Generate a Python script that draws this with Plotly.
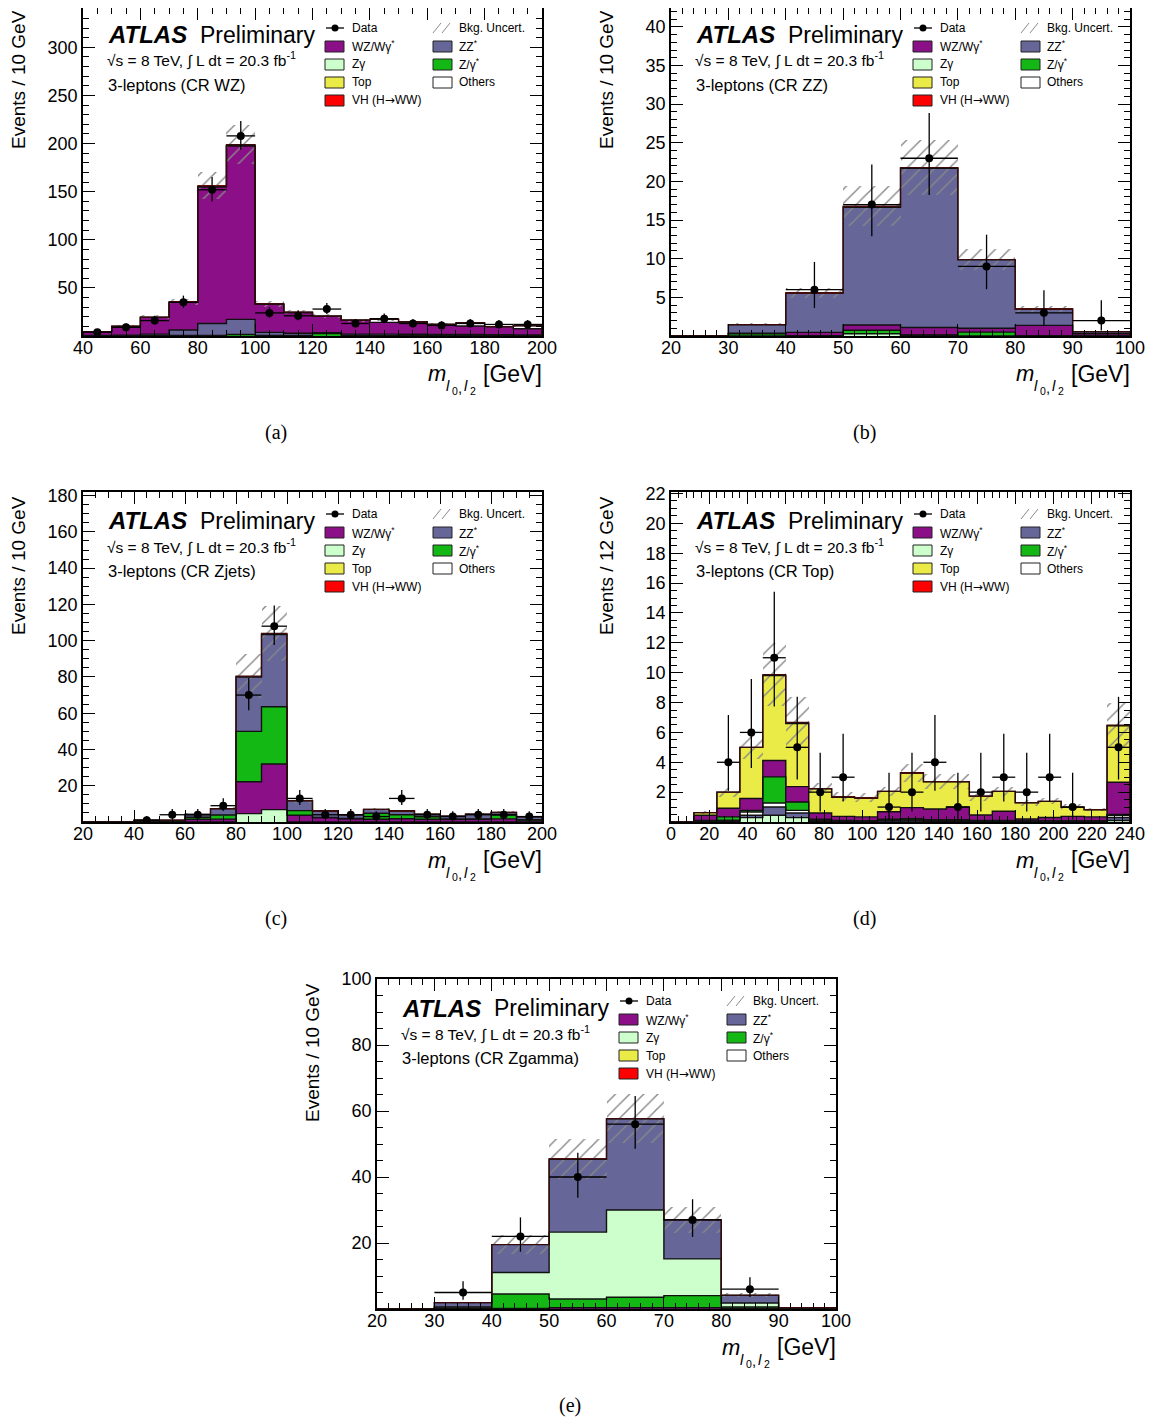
import math
import plotly.graph_objects as go

OFF = 8  # page body margin of the browser
W, H = 1157 - OFF, 1421 - OFF
FONT = "Liberation Sans"

# ---------------- colours ----------------
C_WZ = "#8b1087"
C_ZZ = "#666699"
C_ZG = "#ccffcc"
C_TOP = "#ebeb48"
C_ZGS = "#14b814"
C_OTH = "#ffffff"
C_VH = "#ff0000"

# ---------------- panel (a): CR WZ ----------------
a_edges = [40, 50, 60, 70, 80, 90, 100, 110, 120, 130, 140, 150, 160, 170, 180, 190, 200]
a_zgs = [0.1, 0.2, 0.3, 0.5, 0.7, 1.5, 0.5, 0.5, 2.5, 0.5, 0.4, 0.3, 0.3, 0.3, 0.3, 0.2]
a_zz = [0.4, 0.6, 1.7, 5.7, 12.3, 15.8, 3.3, 2.3, 1.0, 1.5, 1.6, 1.5, 1.2, 1.2, 1.0, 1.0]
a_wz = [4.0, 9.2, 17.4, 28.8, 142.0, 180.5, 29.2, 21.7, 17.0, 14.3, 12.2, 12.7, 10.6, 8.9, 8.4, 6.4]
a_oth = [0, 0, 0, 0, 0, 0, 0, 0, 0, 0, 3.1, 0, 0, 3.1, 0, 3.0]
a_vh = [0.1, 0.2, 0.3, 0.5, 1.0, 1.2, 0.4, 0.3, 0.2, 0.2, 0.2, 0.2, 0.1, 0.1, 0.1, 0.1]
a_data = [4, 9, 16, 35, 152, 208, 24, 21, 28, 13, 18, 13, 11, 13, 12, 12]
a_unc = [0.5, 1.0, 1.8, 3.0, 14, 20, 3.0, 2.2, 2.0, 1.6, 1.5, 1.4, 1.2, 1.1, 1.0, 0.9]

# ---------------- panel (b): CR ZZ ----------------
b_edges = [20, 30, 40, 50, 60, 70, 80, 90, 100]
b_zg = [0, 0, 0, 0.3, 0.1, 0, 0, 0]
b_zgs = [0, 0.3, 0.05, 0.45, 0.05, 0.5, 0.05, 0]
b_wz = [0, 0.05, 0.42, 0.67, 0.95, 0.5, 1.32, 0.3]
b_zz = [0, 1.11, 5.08, 15.23, 20.6, 8.85, 2.11, 0.25]
b_vh = [0, 0, 0.02, 0.15, 0.1, 0.05, 0.02, 0]
b_data = [0, 0, 6, 17, 23, 9, 3, 2]
b_unc = [0, 0.2, 0.6, 2.6, 3.5, 1.3, 0.4, 0.1]

# ---------------- panel (c): CR Zjets ----------------
c_edges = [20, 30, 40, 50, 60, 70, 80, 90, 100, 110, 120, 130, 140, 150, 160, 170, 180, 190, 200]
c_zg = [0, 0, 0, 0, 0, 0, 4.6, 6.8, 0, 0, 0, 0, 0, 0, 0, 0, 0, 0]
c_wz = [0, 0, 0.5, 0.5, 1.5, 1.6, 17.6, 25.2, 3.7, 2.4, 1.8, 1.5, 1.8, 1.5, 1.5, 1.5, 1.7, 1.1]
c_zgs = [0, 0, 0.1, 0.1, 1.1, 2.3, 27.8, 31.6, 2.6, 0.1, 0.1, 3.3, 2.2, 1.4, 0.1, 0.1, 2.2, 0.1]
c_zz = [0, 0, 0.4, 0.4, 1.55, 3.4, 30.0, 39.8, 5.4, 3.55, 2.05, 2.15, 2.05, 1.45, 1.65, 2.75, 1.35, 1.65]
c_vh = [0, 0, 0, 0, 0.05, 0.1, 0.5, 0.6, 0.1, 0.05, 0.05, 0.05, 0.05, 0.05, 0.05, 0.05, 0.05, 0.05]
c_data = [0, 0, 1, 4, 4, 9, 70, 108, 13, 4, 4, 3, 13, 4, 3, 4, 4, 3]
c_unc = [0, 0, 0.2, 0.2, 0.5, 1.0, 12, 15, 1.5, 0.7, 0.5, 0.8, 0.7, 0.5, 0.4, 0.5, 0.6, 0.4]

# ---------------- panel (d): CR Top ----------------
d_edges = [0, 12, 24, 36, 48, 60, 72, 84, 96, 108, 120, 132, 144, 156, 168, 180, 192, 204, 216, 228, 240]
d_zg = [0, 0, 0.05, 0.29, 0.45, 0.29, 0.02, 0, 0, 0, 0, 0, 0, 0, 0, 0, 0, 0, 0, 0.1]
d_zz = [0, 0, 0.05, 0.16, 0.55, 0.31, 0.08, 0.05, 0.05, 0.1, 0.1, 0.05, 0.05, 0.05, 0.05, 0.05, 0.05, 0.05, 0.05, 0.2]
d_oth = [0, 0, 0, 0.22, 0.27, 0.18, 0.02, 0, 0, 0.05, 0.1, 0.05, 0.05, 0, 0, 0, 0, 0, 0, 0.15]
d_zgs = [0, 0.1, 0.24, 0.11, 1.75, 0.56, 0.06, 0.05, 0.03, 0.03, 0.02, 0.05, 0.05, 0.05, 0.05, 0.02, 0.02, 0.02, 0.02, 0.05]
d_wz = [0, 0.35, 0.58, 0.79, 1.1, 1.03, 0.42, 0.28, 0.26, 0.51, 0.74, 0.72, 0.85, 0.37, 0.62, 0.13, 0.23, 0.31, 0.27, 2.16]
d_top = [0, 0.18, 1.08, 3.43, 5.68, 4.23, 1.62, 1.28, 1.26, 1.36, 2.32, 1.82, 1.7, 1.26, 1.33, 1.09, 1.08, 0.61, 0.48, 3.79]
d_vh = [0, 0, 0, 0, 0.07, 0.07, 0.02, 0.02, 0.01, 0.01, 0.03, 0.02, 0.01, 0.01, 0.01, 0.01, 0.01, 0.01, 0.01, 0.04]
d_data = [0, 0, 4, 6, 11, 5, 2, 3, 0, 1, 2, 4, 1, 2, 3, 2, 3, 1, 0, 5]
d_unc = [0, 0.1, 0.3, 0.8, 2.1, 1.7, 0.4, 0.3, 0.3, 0.3, 0.6, 0.5, 0.5, 0.3, 0.3, 0.2, 0.2, 0.2, 0.1, 1.5]

# ---------------- panel (e): CR Zgamma ----------------
e_edges = [20, 30, 40, 50, 60, 70, 80, 90, 100]
e_wz = [0, 0.1, 0.2, 0.4, 0.4, 0.4, 0.2, 0.1]
e_zgs = [0, 0.2, 4.36, 2.64, 3.15, 3.66, 0.4, 0.1]
e_zg = [0, 0.3, 6.49, 20.26, 26.45, 11.14, 1.2, 0.1]
e_zz = [0, 1.33, 8.45, 22.1, 27.6, 11.8, 2.36, 0.1]
e_vh = [0, 0, 0.05, 0.1, 0.1, 0.05, 0, 0]
e_data = [0, 5, 22, 40, 56, 27, 6, 0]
e_unc = [0, 0.3, 2.8, 6.0, 7.5, 4.0, 0.6, 0.1]


# ---------------- Poisson (Garwood) intervals for data ----------------
def pois_cdf(n, mu):
    if mu <= 0:
        return 1.0
    s = 0.0
    lm = math.log(mu)
    for k in range(n + 1):
        s += math.exp(-mu + k * lm - math.lgamma(k + 1))
    return s


def garwood(n):
    a = 0.5 * (1 - 0.682689)
    lo, hi = float(n), n + 20 + 10 * math.sqrt(n + 1)
    for _ in range(80):
        mid = 0.5 * (lo + hi)
        if pois_cdf(n, mid) > a:
            lo = mid
        else:
            hi = mid
    up = 0.5 * (lo + hi)
    if n == 0:
        dn = 0.0
    else:
        lo, hi = 0.0, float(n)
        for _ in range(80):
            mid = 0.5 * (lo + hi)
            if pois_cdf(n - 1, mid) > 1 - a:
                lo = mid
            else:
                hi = mid
        dn = 0.5 * (lo + hi)
    return n - dn, up - n


fig = go.Figure()
layout = dict(width=W, height=H, margin=dict(l=0, r=0, t=0, b=0, pad=0, autoexpand=False),
              paper_bgcolor="white", plot_bgcolor="white", showlegend=False,
              barmode="overlay", bargap=0, template="none")
annotations = []
shapes = []


def px(x):
    return (x - OFF) / W


def py(y):
    return 1 - (y - OFF) / H


def text(x, y, s, size, xanchor="left", yanchor="middle", family=FONT, angle=0):
    annotations.append(dict(x=px(x), y=min(1.0, py(y)), xref="paper", yref="paper", xanchor=xanchor,
                            yanchor=yanchor, showarrow=False, text=s, textangle=angle,
                            font=dict(family=family, size=size, color="black")))


def add_panel(k, edges, comps, data, unc, box, yr, xdt, xminor, ytv, yminor,
              ytitle, region, cap):
    L, T, R, B = box
    Tp = T
    if T < OFF:  # keep the same value-per-pixel scale when the frame top is clipped
        Tp = OFF
        yr = [yr[0], yr[0] + (yr[1] - yr[0]) * (B - OFF) / (B - T)]
    xa = "x" if k == 1 else "x%d" % k
    ya = "y" if k == 1 else "y%d" % k
    centers = [(edges[i] + edges[i + 1]) / 2 for i in range(len(edges) - 1)]
    widths = [edges[i + 1] - edges[i] for i in range(len(edges) - 1)]
    nb = len(centers)
    cum = [0.0] * nb
    levels = []
    for name, vals, col in comps:
        fig.add_trace(go.Bar(x=centers, y=vals, base=list(cum), width=widths,
                             marker=dict(color=col, line=dict(width=0)),
                             xaxis=xa, yaxis=ya, hoverinfo="skip"))
        cum = [cum[i] + vals[i] for i in range(nb)]
        levels.append((name, list(cum)))
    # outlines (ROOT style step histograms)
    for name, lev in levels:
        xs = [edges[0]] + list(edges) + [edges[-1]]
        ys = [0] + lev + [lev[-1], 0]
        if name == "VH":
            col, wid = "#3a0a0a", 1.2
        else:
            col, wid = "#111111", 1.4
        fig.add_trace(go.Scatter(x=xs, y=ys, mode="lines", line=dict(color=col, width=wid, shape="hv"),
                                 xaxis=xa, yaxis=ya, hoverinfo="skip"))
    total = cum
    # uncertainty hatch
    fig.add_trace(go.Bar(x=centers, y=[2 * u for u in unc], base=[total[i] - unc[i] for i in range(nb)],
                         width=widths,
                         marker=dict(color="rgba(0,0,0,0)", line=dict(width=0),
                                     pattern=dict(shape="/", fgcolor="#888888", bgcolor="rgba(0,0,0,0)",
                                                  size=10, solidity=0.14)),
                         xaxis=xa, yaxis=ya, hoverinfo="skip"))
    # data
    dx, dy, eu, ed, ex = [], [], [], [], []
    for i in range(nb):
        if data[i] > 0:
            lo, hi = garwood(data[i])
            dx.append(centers[i])
            dy.append(data[i])
            ed.append(lo)
            eu.append(hi)
            ex.append(widths[i] / 2)
    fig.add_trace(go.Scatter(x=dx, y=dy, mode="markers",
                             marker=dict(color="black", size=8),
                             error_y=dict(type="data", symmetric=False, array=eu, arrayminus=ed,
                                          color="black", thickness=1.3, width=0),
                             error_x=dict(type="data", array=ex, color="black", thickness=1.3, width=0),
                             xaxis=xa, yaxis=ya, hoverinfo="skip"))

    axkey = "xaxis" if k == 1 else "xaxis%d" % k
    aykey = "yaxis" if k == 1 else "yaxis%d" % k
    common = dict(showline=True, linecolor="black", linewidth=1.5, mirror="ticks",
                  ticks="inside", ticklen=12, tickwidth=1.2, tickcolor="black",
                  showgrid=False, zeroline=False, automargin=False,
                  tickfont=dict(family=FONT, size=18, color="black"))
    layout[axkey] = dict(common, domain=[px(L), px(R)], range=[edges[0], edges[-1]],
                         anchor=ya, tickmode="linear", tick0=edges[0], dtick=xdt,
                         ticklabelstandoff=-5,
                         minor=dict(ticks="inside", ticklen=6, tickwidth=1, tickcolor="black",
                                    dtick=xminor, tick0=edges[0], showgrid=False))
    layout[aykey] = dict(common, domain=[py(B), min(1.0, py(Tp))], range=yr, anchor=xa,
                         tickmode="array", tickvals=ytv,
                         minor=dict(ticks="inside", ticklen=6, tickwidth=1, tickcolor="black",
                                    tickmode="linear", dtick=yminor, tick0=0, showgrid=False))

    # texts: ATLAS label
    text(L + 23, T + 29, "<b><i>ATLAS</i></b>", 24)
    text(L + 115, T + 29, "Preliminary", 23)
    text(L + 22, T + 54, "√s = 8 TeV, ∫ L dt = 20.3 fb<sup>-1</sup>", 15.5)
    text(L + 23, T + 79, "3-leptons (" + region + ")", 16.5)
    # legend
    rows = [22, 40.5, 58.5, 76.5, 94.5]
    arrow = "<span style='font-family:DejaVu Sans'>→</span>"
    lcol = [("WZ/Wγ<sup>*</sup>", C_WZ), ("Zγ", C_ZG), ("Top", C_TOP), ("VH (H" + arrow + "WW)", C_VH)]
    rcol = [("ZZ<sup>*</sup>", C_ZZ), ("Z/γ<sup>*</sup>", C_ZGS), ("Others", C_OTH)]
    # data entry
    yr0 = T + rows[0]
    shapes.append(dict(type="line", xref="paper", yref="paper", x0=px(L + 243), x1=px(L + 261),
                       y0=py(yr0), y1=py(yr0), line=dict(color="black", width=1.3)))
    shapes.append(dict(type="circle", xref="paper", yref="paper", x0=px(L + 248.5), x1=px(L + 255.5),
                       y0=py(yr0 + 3.5), y1=py(yr0 - 3.5), fillcolor="black", line=dict(width=0)))
    text(L + 267, yr0, "Data", 12)
    for j, (txt, col) in enumerate(lcol):
        yy = T + rows[j + 1]
        shapes.append(dict(type="rect", xref="paper", yref="paper", x0=px(L + 242), x1=px(L + 261),
                           y0=py(yy + 5.5), y1=py(yy - 5.5), fillcolor=col,
                           line=dict(color="#222222", width=1)))
        text(L + 267, yy, txt, 12)
    # uncertainty entry
    for x0 in (350, 359):
        shapes.append(dict(type="line", xref="paper", yref="paper", x0=px(L + x0), x1=px(L + x0 + 8),
                           y0=py(yr0 + 5), y1=py(yr0 - 5), line=dict(color="#8a8a8a", width=1)))
    text(L + 374, yr0, "Bkg. Uncert.", 12)
    for j, (txt, col) in enumerate(rcol):
        yy = T + rows[j + 1]
        shapes.append(dict(type="rect", xref="paper", yref="paper", x0=px(L + 350), x1=px(L + 369),
                           y0=py(yy + 5.5), y1=py(yy - 5.5), fillcolor=col,
                           line=dict(color="#222222", width=1)))
        text(L + 374, yy, txt, 12)
    # y axis title
    text(L - 64.5, T + 2, ytitle, 19, xanchor="center", yanchor="top", angle=-90)
    # x axis title  m_{l0, l2} [GeV]
    text(R + 2, B + 38, "[GeV]", 23, xanchor="right")
    text(R - 94, B + 38, "<i>m</i>", 22, xanchor="right")
    text(R - 98, B + 50, "<i>l</i>", 15)
    text(R - 92.5, B + 55, "0", 10.5)
    text(R - 86.5, B + 51, ",", 15)
    text(R - 80, B + 50, "<i>l</i>", 15)
    text(R - 74.5, B + 55, "2", 10.5)
    # caption
    text(L + 193, T + 426, cap, 20, xanchor="center", family="Liberation Serif")


add_panel(1, a_edges,
          [("Zgs", a_zgs, C_ZGS), ("ZZ", a_zz, C_ZZ), ("WZ", a_wz, C_WZ), ("Others", a_oth, C_OTH),
           ("VH", a_vh, C_VH)],
          a_data, a_unc, (83, 6, 542, 336), [0, 343], 20, 5,
          [50, 100, 150, 200, 250, 300], 10, "Events / 10 GeV", "CR WZ", "(a)")
add_panel(2, b_edges,
          [("Zg", b_zg, C_ZG), ("Zgs", b_zgs, C_ZGS), ("WZ", b_wz, C_WZ), ("ZZ", b_zz, C_ZZ),
           ("VH", b_vh, C_VH)],
          b_data, b_unc, (671, 6, 1130, 336), [0, 42.7], 10, 2,
          [5, 10, 15, 20, 25, 30, 35, 40], 1, "Events / 10 GeV", "CR ZZ", "(b)")
add_panel(3, c_edges,
          [("Zg", c_zg, C_ZG), ("WZ", c_wz, C_WZ), ("Zgs", c_zgs, C_ZGS), ("ZZ", c_zz, C_ZZ),
           ("VH", c_vh, C_VH)],
          c_data, c_unc, (83, 492, 542, 822), [0, 182], 20, 5,
          [20, 40, 60, 80, 100, 120, 140, 160, 180], 5, "Events / 10 GeV", "CR Zjets", "(c)")
add_panel(4, d_edges,
          [("Zg", d_zg, C_ZG), ("ZZ", d_zz, C_ZZ), ("Others", d_oth, C_OTH), ("Zgs", d_zgs, C_ZGS),
           ("WZ", d_wz, C_WZ), ("Top", d_top, C_TOP), ("VH", d_vh, C_VH)],
          d_data, d_unc, (671, 492, 1130, 822), [0, 22.1], 20, 4,
          [2, 4, 6, 8, 10, 12, 14, 16, 18, 20, 22], 0.5, "Events / 12 GeV", "CR Top", "(d)")
add_panel(5, e_edges,
          [("WZ", e_wz, C_WZ), ("Zgs", e_zgs, C_ZGS), ("Zg", e_zg, C_ZG), ("ZZ", e_zz, C_ZZ),
           ("VH", e_vh, C_VH)],
          e_data, e_unc, (377, 979, 836, 1309), [0, 100], 10, 2,
          [20, 40, 60, 80, 100], 5, "Events / 10 GeV", "CR Zgamma", "(e)")

layout["annotations"] = annotations
layout["shapes"] = shapes
fig.update_layout(**layout)
fig.write_html("out.html")
